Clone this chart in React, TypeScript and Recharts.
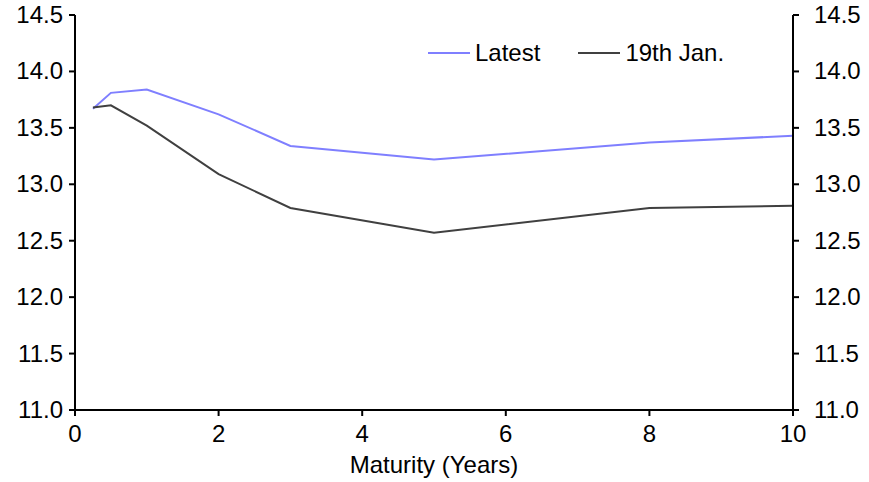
import React from "react";
import { LineChart, Line, XAxis, YAxis } from "recharts";

const maturities = [0.25, 0.5, 1, 2, 3, 5, 8, 10];
const latest = [13.67, 13.81, 13.84, 13.62, 13.34, 13.22, 13.37, 13.43];
const jan19 = [13.68, 13.7, 13.52, 13.09, 12.79, 12.57, 12.79, 12.81];
const xTicks = [0, 2, 4, 6, 8, 10];
const yTicks = [11, 11.5, 12, 12.5, 13, 13.5, 14, 14.5];

const data = maturities.map((m, i) => ({ m, latest: latest[i], jan19: jan19[i] }));

const FONT = "'Liberation Sans', Arial, sans-serif";
const FS = 24;

const legendItems = [
  { name: "Latest", color: "#7f7fff" },
  { name: "19th Jan.", color: "#404040" },
];

function XTick({ x, y, payload }: any) {
  return (
    <text x={x} y={y + 20} textAnchor="middle" fontSize={FS} fontFamily={FONT} fill="#000">
      {payload.value}
    </text>
  );
}

function LeftTick({ x, y, payload }: any) {
  return (
    <text x={x} y={y + 8} textAnchor="end" fontSize={FS} fontFamily={FONT} fill="#000">
      {Number(payload.value).toFixed(1)}
    </text>
  );
}

function RightTick({ x, y, payload }: any) {
  return (
    <text x={x + 9} y={y + 8} textAnchor="start" fontSize={FS} fontFamily={FONT} fill="#000">
      {Number(payload.value).toFixed(1)}
    </text>
  );
}

function LegendBox() {
  return (
    <div
      style={{
        position: "absolute",
        top: 38,
        left: 428,
        display: "flex",
        fontFamily: FONT,
        fontSize: FS,
        color: "#000",
        lineHeight: "30px",
      }}
    >
      {legendItems.map((it) => (
        <div key={it.name} style={{ display: "flex", alignItems: "center", marginRight: 38 }}>
          <div style={{ width: 42, height: 2, background: it.color, marginRight: 5 }} />
          <span>{it.name}</span>
        </div>
      ))}
    </div>
  );
}

export default function App() {
  return (
    <div style={{ position: "absolute", left: 0, top: 0, width: 869, height: 482, background: "#fff" }}>
      <LineChart width={869} height={482} data={data} margin={{ top: 15, right: 0, bottom: 0, left: 0 }}>
        <XAxis
          dataKey="m"
          type="number"
          domain={[0, 10]}
          ticks={xTicks}
          tick={<XTick />}
          tickSize={6}
          tickMargin={6}
          height={72}
          stroke="#000"
          strokeWidth={2}
          label={{ value: "Maturity (Years)", position: "insideBottom", offset: 9, fontSize: FS, fill: "#000", fontFamily: FONT }}
        />
        <YAxis
          yAxisId="left"
          domain={[11, 14.5]}
          ticks={yTicks}
          tick={<LeftTick />}
          tickSize={6}
          tickMargin={6}
          width={75}
          stroke="#000"
          strokeWidth={2}
        />
        <YAxis
          yAxisId="right"
          orientation="right"
          domain={[11, 14.5]}
          ticks={yTicks}
          tick={<RightTick />}
          tickSize={6}
          tickMargin={6}
          width={76}
          stroke="#000"
          strokeWidth={2}
        />
        <Line
          yAxisId="left"
          dataKey="latest"
          name="Latest"
          stroke="#7f7fff"
          strokeWidth={2}
          dot={false}
          type="linear"
          isAnimationActive={false}
        />
        <Line
          yAxisId="right"
          dataKey="jan19"
          name="19th Jan."
          stroke="#404040"
          strokeWidth={2}
          dot={false}
          type="linear"
          isAnimationActive={false}
        />
      </LineChart>
      <LegendBox />
    </div>
  );
}
